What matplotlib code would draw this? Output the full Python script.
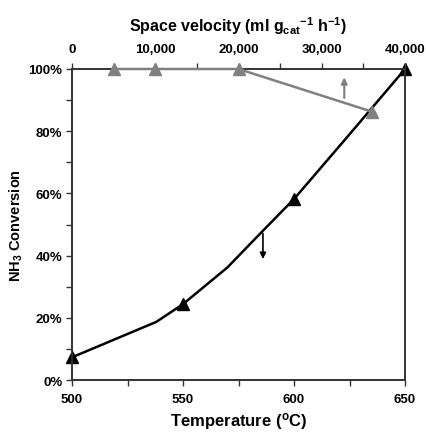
import matplotlib
matplotlib.use("Agg")
import matplotlib.pyplot as plt
import matplotlib.font_manager as fm
from matplotlib.ticker import MultipleLocator, FuncFormatter

# keep the narrow variants out of font matching
fm.fontManager.ttflist = [f for f in fm.fontManager.ttflist
                          if 'narrow' not in f.fname.lower() and 'narrow' not in f.name.lower()]
fm.FontManager._findfont_cached.cache_clear()

plt.rcParams['font.family'] = ['Liberation Sans', 'DejaVu Sans']
plt.rcParams['font.weight'] = 'bold'
plt.rcParams['mathtext.fontset'] = 'custom'
plt.rcParams['mathtext.rm'] = 'Liberation Sans:bold'
plt.rcParams['mathtext.bf'] = 'Liberation Sans:bold'
plt.rcParams['mathtext.default'] = 'bf'

# temperature series (black line, markers at selected points)
temp_line = [500, 525, 538, 550, 570, 586, 600, 625, 650]
conv_line = [7.3, 14.8, 18.7, 24.4, 36.2, 48.0, 58.2, 79.0, 100.0]
temp_marks = [500, 550, 600, 650]
conv_marks = [7.3, 24.4, 58.2, 100.0]

# space velocity series (grey)
sv = [5000, 10000, 20000, 36000]
sv_conv = [100.0, 100.0, 100.0, 86.3]

# arrows: (x, y_start, y_end)
arrow_temp = (586, 48.0, 38.0)
arrow_sv = (32700, 89.8, 98.2)

grey = '#808080'
spine_col = '#333333'

fig = plt.figure(figsize=(4.27, 4.35), dpi=100)
ax = fig.add_axes([0.1686, 0.1241, 0.78, 0.715])

ax.plot(temp_line, conv_line, color='black', lw=1.8, zorder=3, clip_on=False)
ax.plot(temp_marks, conv_marks, ls='none', marker='^', ms=9, color='black', zorder=4,
        clip_on=False)
ax.annotate('', xy=(arrow_temp[0], arrow_temp[2]), xytext=(arrow_temp[0], arrow_temp[1]),
            arrowprops=dict(arrowstyle='-|>', color='black', lw=1.2, mutation_scale=9))

ax.set_xlim(500, 650)
ax.set_ylim(0, 100)
ax.xaxis.set_major_locator(MultipleLocator(50))
ax.xaxis.set_minor_locator(MultipleLocator(25))
ax.yaxis.set_major_locator(MultipleLocator(20))
ax.yaxis.set_minor_locator(MultipleLocator(10))
ax.yaxis.set_major_formatter(FuncFormatter(lambda v, p: f"{v:.0f}%"))
ax.tick_params(which='both', direction='out', length=4, width=1, color=spine_col,
               labelsize=9.5, pad=5)
ax.tick_params(axis='y', pad=3)
ax.set_xlabel('Temperature ($^o$C)', fontsize=12, fontweight='bold', labelpad=4)
ax.set_ylabel('NH$_3$ Conversion', fontsize=10.5, fontweight='bold', labelpad=2)

ax2 = ax.twiny()
ax2.plot(sv, sv_conv, color=grey, lw=1.8, marker='^', ms=9, zorder=3, clip_on=False)
ax2.annotate('', xy=(arrow_sv[0], arrow_sv[2]), xytext=(arrow_sv[0], arrow_sv[1]),
             arrowprops=dict(arrowstyle='-|>', color=grey, lw=1.5, mutation_scale=9))
ax2.set_xlim(0, 40000)
ax2.xaxis.set_major_locator(MultipleLocator(10000))
ax2.xaxis.set_minor_locator(MultipleLocator(5000))
ax2.xaxis.set_major_formatter(FuncFormatter(lambda v, p: f"{v:,.0f}"))
ax2.tick_params(which='both', direction='out', length=4, width=1, color=spine_col,
                labelsize=9.5, pad=6)
ax2.set_xlabel('Space velocity (ml g$_{cat}$$^{-1}$ h$^{-1}$)',
               fontsize=11.5, fontweight='bold', labelpad=9)

for a in (ax, ax2):
    for s in a.spines.values():
        s.set_color(spine_col)
        s.set_linewidth(1.2)
    for lab in a.get_xticklabels() + a.get_yticklabels():
        lab.set_fontweight('bold')

fig.savefig('out.png', dpi=100)
